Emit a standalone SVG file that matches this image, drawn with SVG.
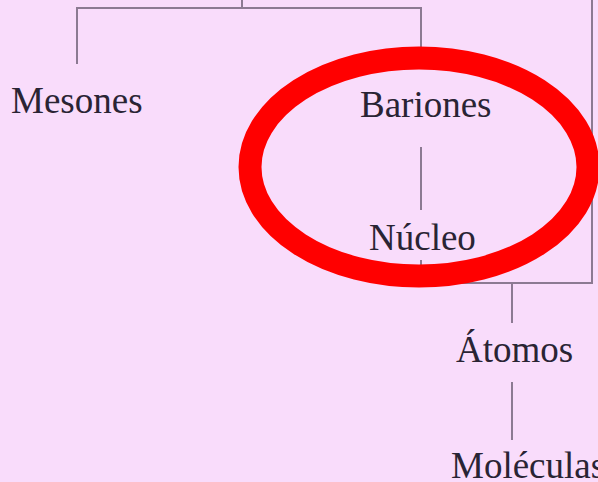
<svg xmlns="http://www.w3.org/2000/svg" width="598" height="482" viewBox="0 0 598 482">
<style>
.bg{fill:#f9dcfb}
.ln{stroke:#8c7a92;stroke-width:2;fill:none}
.t{font-family:"Liberation Serif","Times New Roman",serif;font-size:37px;fill:#2a2434}
.hl{fill:none;stroke:#ff0000;stroke-width:23}
</style>
<rect class="bg" x="0" y="0" width="598" height="482"/>
<g id="connectors">
<path class="ln" d="M242,0 V8"/>
<path class="ln" d="M77,64 V8 H421 V64"/>
<path class="ln" d="M421,147 V210"/>
<path class="ln" d="M592,0 V283 H421 V260"/>
<path class="ln" d="M512,283 V323"/>
<path class="ln" d="M512,382 V440"/>
</g>
<g id="mesones"><text class="t" x="11" y="113">Mesones</text></g>
<g id="bariones"><text class="t" x="360" y="117">Bariones</text></g>
<g id="nucleo"><text class="t" x="369" y="250">Núcleo</text></g>
<g id="atomos"><text class="t" x="456" y="362">Átomos</text></g>
<g id="moleculas"><text class="t" x="451" y="478">Moléculas</text></g>
<g id="highlight"><ellipse class="hl" cx="419" cy="167" rx="169" ry="109"/></g>
</svg>
